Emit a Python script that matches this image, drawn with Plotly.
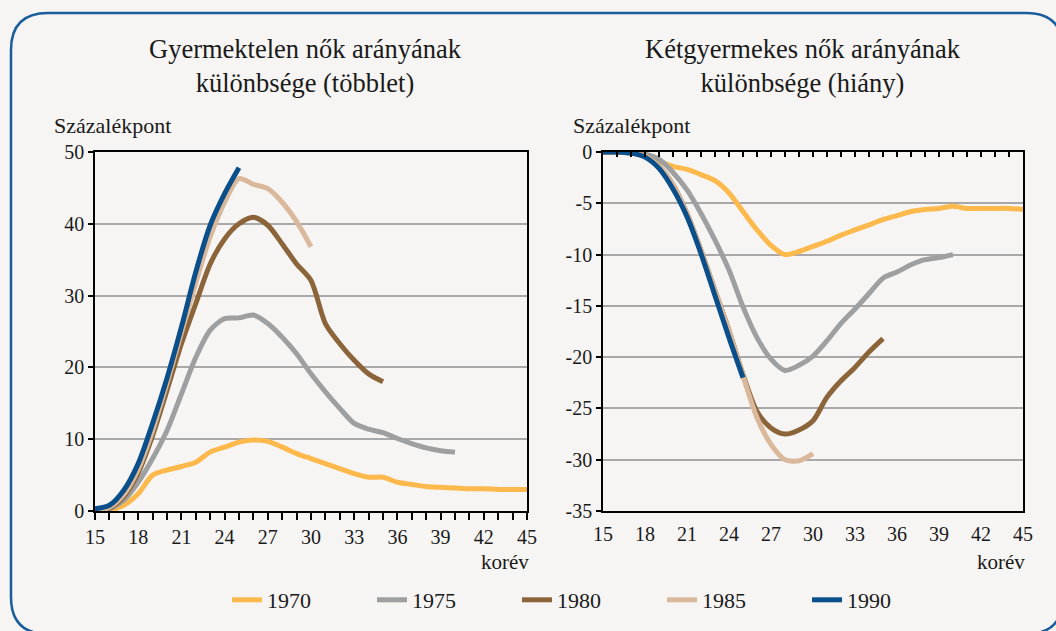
import plotly.graph_objects as go

# ---------------- data ----------------
ages_1970 = list(range(15, 46))
ages_1975 = list(range(15, 41))
ages_1980 = list(range(15, 36))
ages_1985 = list(range(15, 31))
ages_1990 = list(range(15, 26))

# Left panel: childless women share difference (surplus), percentage points
left_1970 = [0, 0.1, 0.8, 2.4, 5.0, 5.7, 6.2, 6.8, 8.2, 8.9, 9.6, 9.9, 9.7, 8.9, 8.0, 7.3,
             6.6, 5.9, 5.2, 4.7, 4.7, 4.0, 3.7, 3.4, 3.3, 3.2, 3.1, 3.1, 3.0, 3.0, 3.0]
left_1975 = [0, 0.3, 1.5, 4.0, 7.3, 11.2, 16.3, 21.4, 25.2, 26.8, 26.9, 27.3, 26.1, 24.2,
             21.9, 19.1, 16.6, 14.3, 12.2, 11.4, 10.9, 10.1, 9.4, 8.8, 8.4, 8.2]
left_1980 = [0, 0.4, 2.0, 5.3, 10.5, 16.8, 23.3, 28.9, 34.4, 37.9, 40.0, 40.9, 39.8, 37.2,
             34.4, 32.1, 26.1, 23.3, 21.0, 19.1, 18.0]
left_1985 = [0, 0.5, 2.3, 5.8, 11.2, 17.8, 24.8, 31.8, 38.2, 43.0, 46.3, 45.5, 44.9, 43.0,
             40.3, 36.8]
left_1990 = [0.3, 0.8, 2.9, 6.6, 12.2, 18.5, 25.6, 33.3, 39.8, 44.2, 47.8]

# Right panel: two-child women share difference (deficit), percentage points
right_1970 = [0, 0, 0, -0.2, -0.9, -1.4, -1.7, -2.2, -2.8, -4.0, -5.8, -7.6, -9.1, -10.0,
              -9.7, -9.2, -8.7, -8.1, -7.6, -7.1, -6.6, -6.2, -5.8, -5.6, -5.5, -5.3, -5.5,
              -5.5, -5.5, -5.5, -5.6]
right_1975 = [0, 0, -0.1, -0.2, -0.7, -2.0, -3.7, -6.0, -8.6, -11.5, -15.1, -18.1, -20.2,
              -21.3, -20.8, -19.9, -18.4, -16.7, -15.3, -13.8, -12.3, -11.7, -11.0, -10.5,
              -10.3, -10.0]
right_1980 = [0, 0, -0.1, -0.4, -1.4, -3.2, -6.0, -9.6, -13.5, -17.4, -21.7, -25.3, -26.9,
              -27.5, -27.1, -26.2, -23.9, -22.3, -21.0, -19.5, -18.2]
right_1985 = [0, 0, -0.1, -0.4, -1.4, -3.2, -6.0, -9.6, -13.5, -17.4, -21.8, -25.9, -28.5,
              -30.0, -30.1, -29.4]
right_1990 = [0, 0, -0.1, -0.5, -1.6, -3.6, -6.3, -9.9, -14.0, -18.1, -22.0]

cohorts = ["1970", "1975", "1980", "1985", "1990"]
colors = ["#fdb94c", "#9d9fa0", "#8b6539", "#d9b89b", "#0b4f8a"]
ages = [ages_1970, ages_1975, ages_1980, ages_1985, ages_1990]
left_vals = [left_1970, left_1975, left_1980, left_1985, left_1990]
right_vals = [right_1970, right_1975, right_1980, right_1985, right_1990]

x_ticks = list(range(15, 46, 3))
left_yticks = [0, 10, 20, 30, 40, 50]
right_yticks = [0, -5, -10, -15, -20, -25, -30, -35]
right_yticktext = ["0", "-5", "-10", "-15", "-20", "-25", "-30", "-35"]

title_left = "Gyermektelen nők arányának<br>különbsége (többlet)"
title_right = "Kétgyermekes nők arányának<br>különbsége (hiány)"
unit_label = "Százalékpont"
x_label = "korév"

# ---------------- figure ----------------
W, H = 1056, 631
BG = "#f6f5f3"
FONT = "Liberation Serif"
TXT = "#1a1a1a"


def px(x):
    return x / W


def py(y):
    return 1 - y / H


fig = go.Figure()

for i, name in enumerate(cohorts):
    fig.add_trace(go.Scatter(
        x=ages[i], y=left_vals[i], mode="lines", name=name,
        line=dict(color=colors[i], width=5, shape="spline", smoothing=0.8),
        xaxis="x", yaxis="y", showlegend=True,
    ))
for i, name in enumerate(cohorts):
    fig.add_trace(go.Scatter(
        x=ages[i], y=right_vals[i], mode="lines", name=name,
        line=dict(color=colors[i], width=5, shape="spline", smoothing=0.8),
        xaxis="x2", yaxis="y2", showlegend=False,
    ))
# dummy trace so the top tick axis of the right panel is drawn
fig.add_trace(go.Scatter(x=[], y=[], xaxis="x3", yaxis="y2", showlegend=False,
                         hoverinfo="skip"))

ydom = [py(511), py(152)]
axis_common = dict(showline=True, linecolor="black", linewidth=1.5, mirror=True,
                   tickfont=dict(family=FONT, size=20, color=TXT), zeroline=False,
                   automargin=False)

fig.update_layout(
    width=W, height=H,
    margin=dict(l=0, r=0, t=0, b=0, autoexpand=False),
    paper_bgcolor=BG, plot_bgcolor=BG,
    font=dict(family=FONT, color=TXT),
    xaxis=dict(domain=[px(95), px(527)], range=[15, 45], tickvals=x_ticks,
               ticks="outside", ticklen=7, tickwidth=1.5, tickcolor="black",
               minor=dict(dtick=1, tick0=15, ticks="outside", ticklen=7, tickwidth=1.5,
                          tickcolor="black", showgrid=False),
               showgrid=False, anchor="y", **axis_common),
    yaxis=dict(domain=ydom, range=[0, 50], tickvals=left_yticks,
               ticks="outside", ticklen=5, tickwidth=1.5, tickcolor="black",
               showgrid=True, gridcolor="#a8a8a8", gridwidth=1.5, anchor="x",
               **axis_common),
    xaxis2=dict(domain=[px(603), px(1023)], range=[15, 45], tickvals=x_ticks,
                ticks="", showgrid=False, anchor="y2", ticklabelstandoff=4,
                **axis_common),
    xaxis3=dict(domain=[px(603), px(1023)], range=[15, 45], overlaying="x2",
                side="top", anchor="y2", dtick=1, tick0=15, ticks="inside",
                ticklen=5, tickwidth=1.5, tickcolor="black", showticklabels=False,
                showgrid=False, showline=False, zeroline=False, automargin=False),
    yaxis2=dict(domain=ydom, range=[-35, 0], tickvals=right_yticks,
                ticktext=right_yticktext,
                ticks="outside", ticklen=5, tickwidth=1.5, tickcolor="black",
                showgrid=True, gridcolor="#a8a8a8", gridwidth=1.5, anchor="x2",
                **axis_common),
    legend=dict(orientation="h", x=px(227), y=py(600), xanchor="left", yanchor="middle",
                entrywidth=100, entrywidthmode="pixels", bgcolor="rgba(0,0,0,0)",
                font=dict(family=FONT, size=22, color=TXT), itemclick=False,
                traceorder="normal"),
    showlegend=True,
)

annotations = [
    dict(text=title_left, x=px(305), y=py(66), xanchor="center", yanchor="middle"),
    dict(text=title_right, x=px(803), y=py(66), xanchor="center", yanchor="middle"),
    dict(text=unit_label, x=px(52), y=py(125), xanchor="left", yanchor="middle",
         size=22),
    dict(text=unit_label, x=px(571), y=py(125), xanchor="left", yanchor="middle",
         size=22),
    dict(text=x_label, x=px(531), y=py(562), xanchor="right", yanchor="middle",
         size=21),
    dict(text=x_label, x=px(1027), y=py(562), xanchor="right", yanchor="middle",
         size=21),
]
for a in annotations:
    size = a.pop("size", 26.5)
    fig.add_annotation(xref="paper", yref="paper", showarrow=False, align="center",
                       font=dict(family=FONT, size=size, color=TXT), **a)

# rounded frame around the whole chart (extends past right/bottom edges)
x0, x1, y0, y1, r = 11, 1063, 13, 634, 37
path = (
    f"M {px(x0)},{py(y0 + r)} "
    f"Q {px(x0)},{py(y0)} {px(x0 + r)},{py(y0)} "
    f"L {px(x1 - r)},{py(y0)} "
    f"Q {px(x1)},{py(y0)} {px(x1)},{py(y0 + r)} "
    f"L {px(x1)},{py(y1 - r)} "
    f"Q {px(x1)},{py(y1)} {px(x1 - r)},{py(y1)} "
    f"L {px(x0 + r)},{py(y1)} "
    f"Q {px(x0)},{py(y1)} {px(x0)},{py(y1 - r)} Z"
)
fig.add_shape(type="path", path=path, xref="paper", yref="paper",
              line=dict(color="#1a5d9c", width=2.5), fillcolor="rgba(0,0,0,0)",
              layer="below")

fig.write_html("out.html",
               config={"displayModeBar": False},
               post_script="document.body.style.margin='0';"
                           "document.body.style.overflow='hidden';")
